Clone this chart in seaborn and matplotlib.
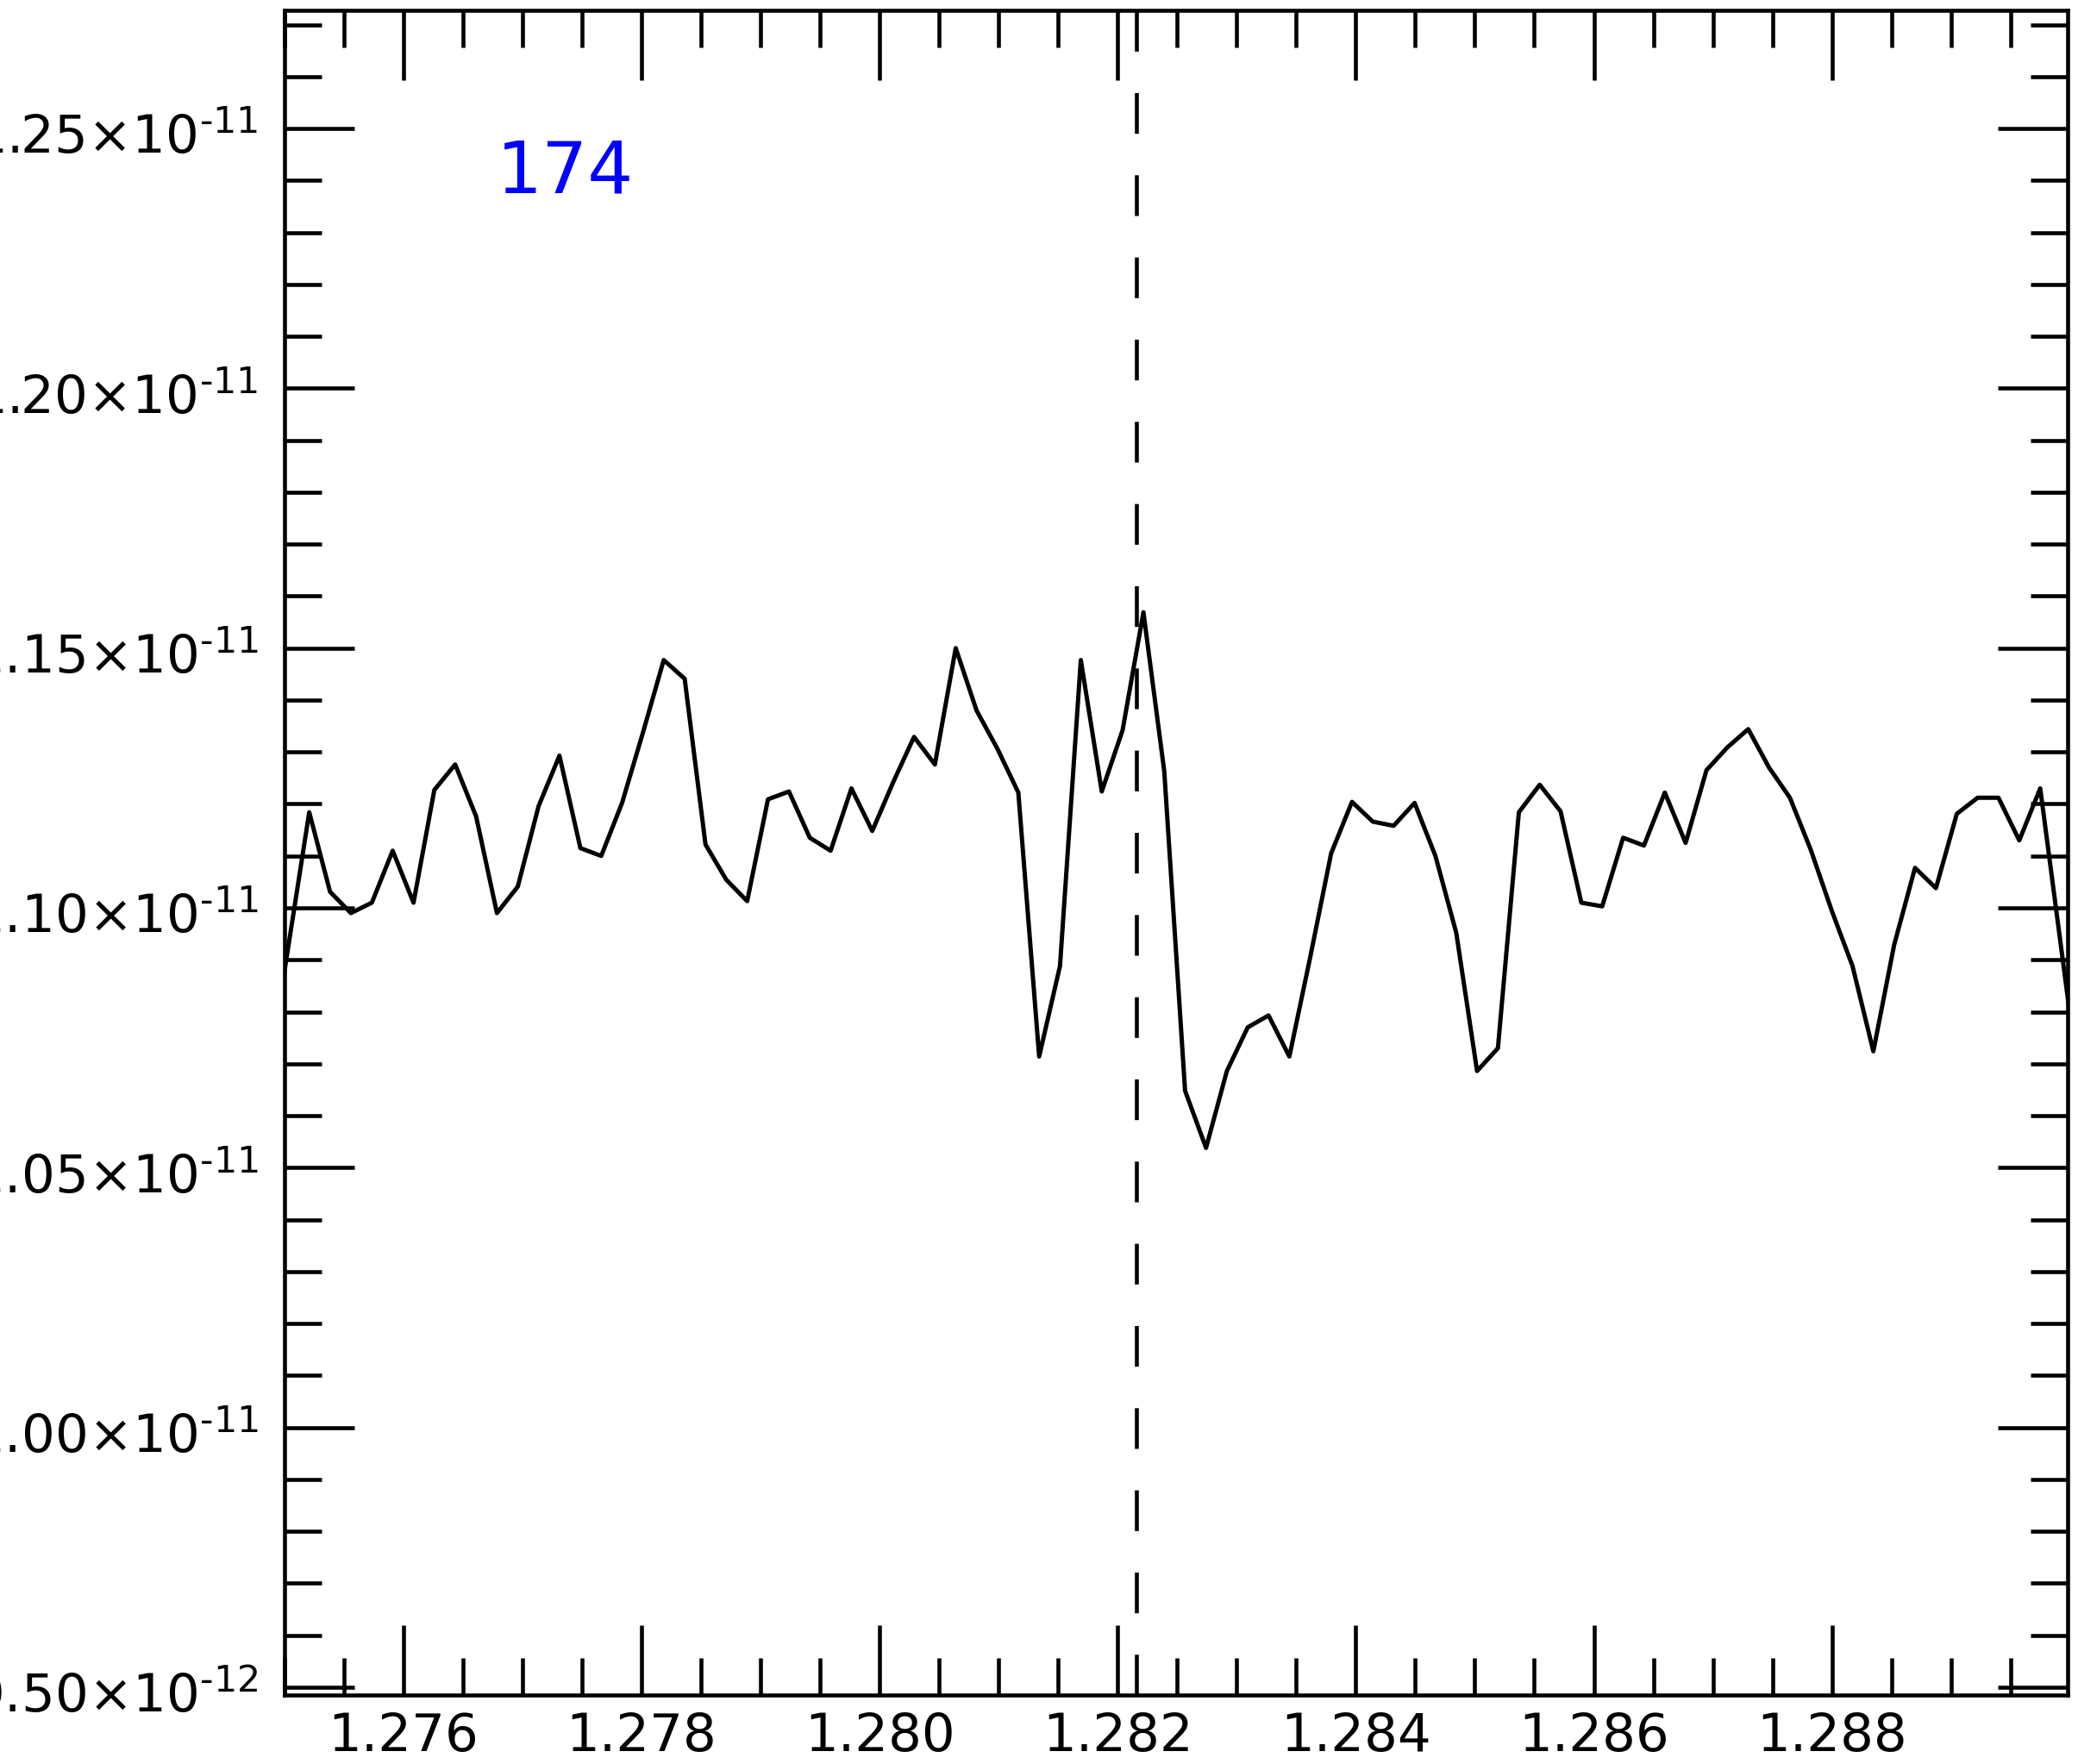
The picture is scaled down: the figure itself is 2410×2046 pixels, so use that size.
import numpy as np
import pandas as pd
import matplotlib
matplotlib.use("Agg")
import matplotlib.pyplot as plt
import seaborn as sns
from matplotlib.ticker import MultipleLocator, FuncFormatter
from matplotlib.transforms import ScaledTranslation

# wavelength grid (micron)
wavelength = [1.27497, 1.275208, 1.275383, 1.275558, 1.275734, 1.275909, 1.276084, 1.276259,
              1.276434, 1.276610, 1.276785, 1.276960, 1.277135, 1.277310, 1.277486, 1.277661,
              1.277836, 1.278011, 1.278186, 1.278362, 1.278537, 1.278712, 1.278887, 1.279062,
              1.279238, 1.279413, 1.279588, 1.279763, 1.279938, 1.280114, 1.280289, 1.280464,
              1.280639, 1.280814, 1.280990, 1.281165, 1.281340, 1.281515, 1.281690, 1.281866,
              1.282041, 1.282216, 1.282391, 1.282566, 1.282742, 1.282917, 1.283092, 1.283267,
              1.283442, 1.283618, 1.283793, 1.283968, 1.284143, 1.284318, 1.284494, 1.284669,
              1.284844, 1.285019, 1.285194, 1.285370, 1.285545, 1.285720, 1.285895, 1.286070,
              1.286246, 1.286421, 1.286596, 1.286771, 1.286946, 1.287122, 1.287297, 1.287472,
              1.287647, 1.287822, 1.287998, 1.288173, 1.288348, 1.288523, 1.288698, 1.288874,
              1.289049, 1.289224, 1.289399, 1.289574, 1.289750, 1.290050]

# flux in units of 1e-11
flux = [1.0834, 1.1184, 1.1031, 1.0990, 1.1010, 1.1110, 1.1010, 1.1227,
        1.1276, 1.1176, 1.0990, 1.1041, 1.1196, 1.1293, 1.1115, 1.1100,
        1.1202, 1.1337, 1.1477, 1.1441, 1.1122, 1.1054, 1.1013, 1.1209,
        1.1224, 1.1135, 1.1110, 1.1230, 1.1148, 1.1242, 1.1329, 1.1276,
        1.1500, 1.1380, 1.1306, 1.1222, 1.0714, 1.0888, 1.1477, 1.1224,
        1.1342, 1.1569, 1.1263, 1.0648, 1.0538, 1.0686, 1.0770, 1.0793,
        1.0714, 1.0906, 1.1105, 1.1204, 1.1166, 1.1158, 1.1202, 1.1100,
        1.0952, 1.0686, 1.0730, 1.1184, 1.1237, 1.1186, 1.1010, 1.1003,
        1.1135, 1.1120, 1.1222, 1.1125, 1.1265, 1.1309, 1.1344, 1.1270,
        1.1212, 1.1112, 1.0995, 1.0888, 1.0724, 1.0929, 1.1077, 1.1038,
        1.1181, 1.1212, 1.1212, 1.1130, 1.1230, 1.0707]

line_center = 1.28216
label_text = "174"

df = pd.DataFrame({"wave": wavelength, "flux": np.array(flux) * 1e-11})

sns.set_style("ticks")
plt.rcParams["font.family"] = ["DejaVu Sans"]
plt.rcParams["mathtext.fontset"] = "dejavusans"

fig = plt.figure(figsize=(24.1, 20.46), dpi=100)
ax = fig.add_axes([0.1369, 0.0391, 0.995 - 0.1369, 0.994 - 0.0391])

sns.lineplot(data=df, x="wave", y="flux", ax=ax, color="black", linewidth=3.6)
ax.axvline(line_center, color="black", linewidth=3.3, linestyle=(0, (10.3, 10.5)))

ax.set_xlim(1.275, 1.28998)
ax.set_ylim(0.9485e-11, 1.2727e-11)

ax.xaxis.set_major_locator(MultipleLocator(0.002))
ax.xaxis.set_minor_locator(MultipleLocator(0.0005))
ax.yaxis.set_major_locator(MultipleLocator(0.05e-11))
ax.yaxis.set_minor_locator(MultipleLocator(0.01e-11))


def sci_fmt(v, pos):
    if v == 0:
        return "0"
    exp = int(np.floor(np.log10(abs(v)) + 1e-9))
    mant = v / 10 ** exp
    return r"$%.2f{\times}10^{\text{-}%d}$" % (mant, -exp)


ax.xaxis.set_major_formatter(FuncFormatter(lambda v, p: "%.3f" % v))
ax.yaxis.set_major_formatter(FuncFormatter(sci_fmt))

ax.tick_params(which="both", direction="in", top=True, right=True, width=3.3, colors="black")
ax.tick_params(which="major", length=58, labelsize=44)
ax.tick_params(which="minor", length=31)
ax.tick_params(axis="x", which="major", pad=14)
ax.tick_params(axis="y", which="major", pad=22)

# nudge y tick labels down a little
shift = ScaledTranslation(0, -0.06, fig.dpi_scale_trans)
for t in ax.yaxis.get_major_ticks():
    t.label1.set_transform(t.label1.get_transform() + shift)

for s in ax.spines.values():
    s.set_linewidth(3.3)
    s.set_color("black")
    s.set_visible(True)

ax.set_xlabel("")
ax.set_ylabel("")

ax.text(0.119, 0.892, label_text, transform=ax.transAxes, color="blue",
        fontsize=60, ha="left", va="baseline")

fig.savefig("out.png", dpi=100)
